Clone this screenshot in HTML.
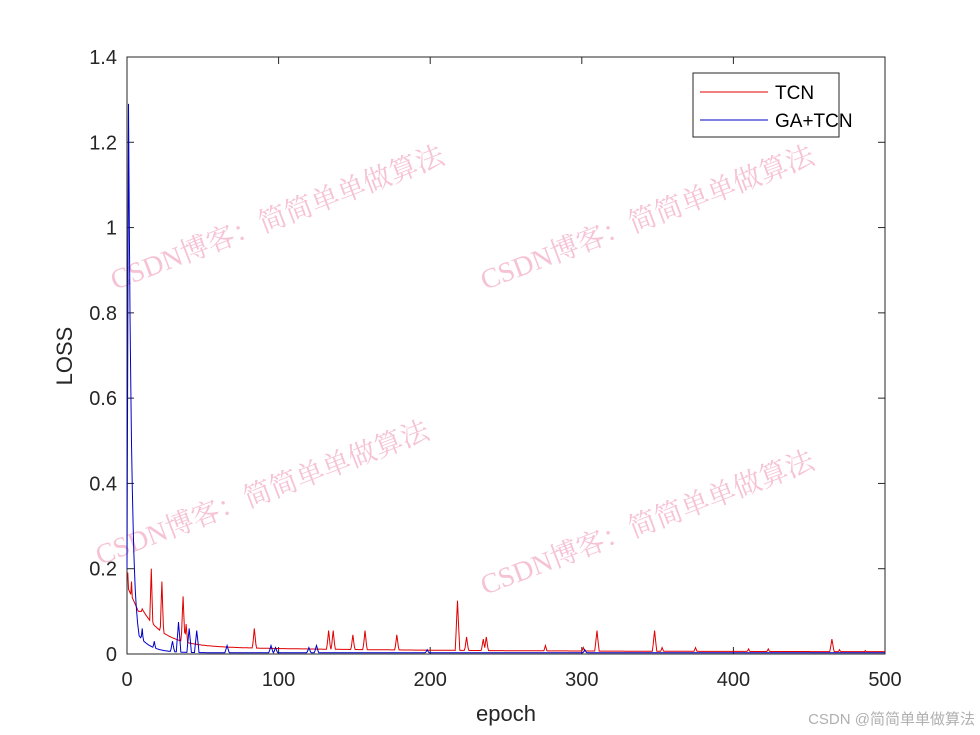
<!DOCTYPE html>
<html><head><meta charset="utf-8"><style>
html,body{margin:0;padding:0;background:#fff;}
svg{display:block;font-family:"Liberation Sans",Arial,sans-serif;}
.wm{font-family:"Liberation Serif","Noto Serif CJK SC",serif;font-size:28px;fill:#f6c2d5;}
</style></head><body>
<svg id="s" width="980" height="735" viewBox="0 0 980 735">
<rect width="980" height="735" fill="#fff"/>
<g class="wm">
<text transform="translate(115,290) rotate(-21)">CSDN博客：简简单单做算法</text>
<text transform="translate(485,290) rotate(-21)">CSDN博客：简简单单做算法</text>
<text transform="translate(100,565) rotate(-21)">CSDN博客：简简单单做算法</text>
<text transform="translate(485,595) rotate(-21)">CSDN博客：简简单单做算法</text>
</g>
<rect x="127" y="57" width="758" height="597" fill="none" stroke="#262626" stroke-width="1"/>
<g id="ticks" stroke="#262626" stroke-width="1"></g>
<g id="lbl" font-size="20" fill="#262626"></g>
<polyline id="red" fill="none" stroke="#e00000" stroke-width="1"/>
<polyline id="blue" fill="none" stroke="#0000c8" stroke-width="1"/>
<text x="506" y="721" font-size="22" text-anchor="middle" fill="#262626">epoch</text>
<text transform="translate(72,356) rotate(-90)" font-size="22" text-anchor="middle" fill="#262626">LOSS</text>
<rect x="693" y="73" width="146" height="64" fill="#fff" stroke="#262626" stroke-width="1"/>
<line x1="700" y1="92" x2="768" y2="92" stroke="#e00000" stroke-width="1.1"/>
<line x1="700" y1="120" x2="768" y2="120" stroke="#0000c8" stroke-width="1.1"/>
<text x="775" y="99" font-size="19" fill="#000">TCN</text>
<text x="775" y="127" font-size="19" fill="#000">GA+TCN</text>
<text x="975" y="724" font-size="15" text-anchor="end" fill="#b0b0b0" font-family="Liberation Sans,'Noto Sans CJK SC',sans-serif">CSDN @简简单单做算法</text>
</svg>
<script>
var X=function(e){return 127+e*758/500},Y=function(v){return 654-v*597/1.4};
var t=document.getElementById('ticks'),l=document.getElementById('lbl'),ns='http://www.w3.org/2000/svg';
function el(p,n,a,txt){var e=document.createElementNS(ns,n);for(var k in a)e.setAttribute(k,a[k]);if(txt!=null)e.textContent=txt;p.appendChild(e);}
for(var i=0;i<=5;i++){var x=X(i*100);el(t,'line',{x1:x,y1:654,x2:x,y2:647});el(t,'line',{x1:x,y1:57,x2:x,y2:64});el(l,'text',{x:x,y:686,'text-anchor':'middle'},String(i*100));}
for(var i=0;i<=7;i++){var v=i*0.2,y=Y(v);el(t,'line',{x1:127,y1:y,x2:134,y2:y});el(t,'line',{x1:885,y1:y,x2:878,y2:y});el(l,'text',{x:117,y:y+7,'text-anchor':'end'},(Math.round(v*10)/10).toString());}
function spikes(e,list){var s=0;list.forEach(function(p){var d=Math.abs(e-p[0]);if(d<1.6)s=Math.max(s,p[1]*(1-d/1.6));});return s;}
var rs=[[3,0.17],[16,0.2],[23,0.17],[37,0.135],[39,0.07],[84,0.06],[133,0.055],[136,0.055],[149,0.045],[157,0.055],[178,0.045],[218,0.125],[224,0.04],[235,0.035],[237,0.04],[276,0.02],[301,0.015],[310,0.055],[348,0.055],[353,0.015],[375,0.015],[410,0.012],[423,0.012],[465,0.035],[470,0.01],[487,0.008]];
var bs=[[10,0.06],[18,0.03],[30,0.03],[34,0.075],[41,0.06],[46,0.055],[66,0.02],[95,0.02],[98,0.015],[120,0.015],[125,0.02],[198,0.01],[302,0.01]];
var r=[],b=[];
for(var e=0;e<=500;e+=0.5){
 var base=e<1?0.19:(e<8?0.16-0.008*e:0.005+0.1*Math.exp(-(e-8)/14)+0.015*Math.exp(-e/150));
 if(e>=8&&e<10)base=0.1;
 var v=Math.max(base,spikes(e,rs));r.push(X(e).toFixed(1)+','+Y(v).toFixed(1));
 var bb;if(e<1)bb=0.2+1.09*e;else if(e<8)bb=1.29*Math.exp(-(e-1)*0.48);else bb=0.003+0.04*Math.exp(-(e-8)/8);
 var w=Math.max(bb,spikes(e,bs));b.push(X(e).toFixed(1)+','+Y(w).toFixed(1));
}
document.getElementById('red').setAttribute('points',r.join(' '));
document.getElementById('blue').setAttribute('points',b.join(' '));
</script>
</body></html>
